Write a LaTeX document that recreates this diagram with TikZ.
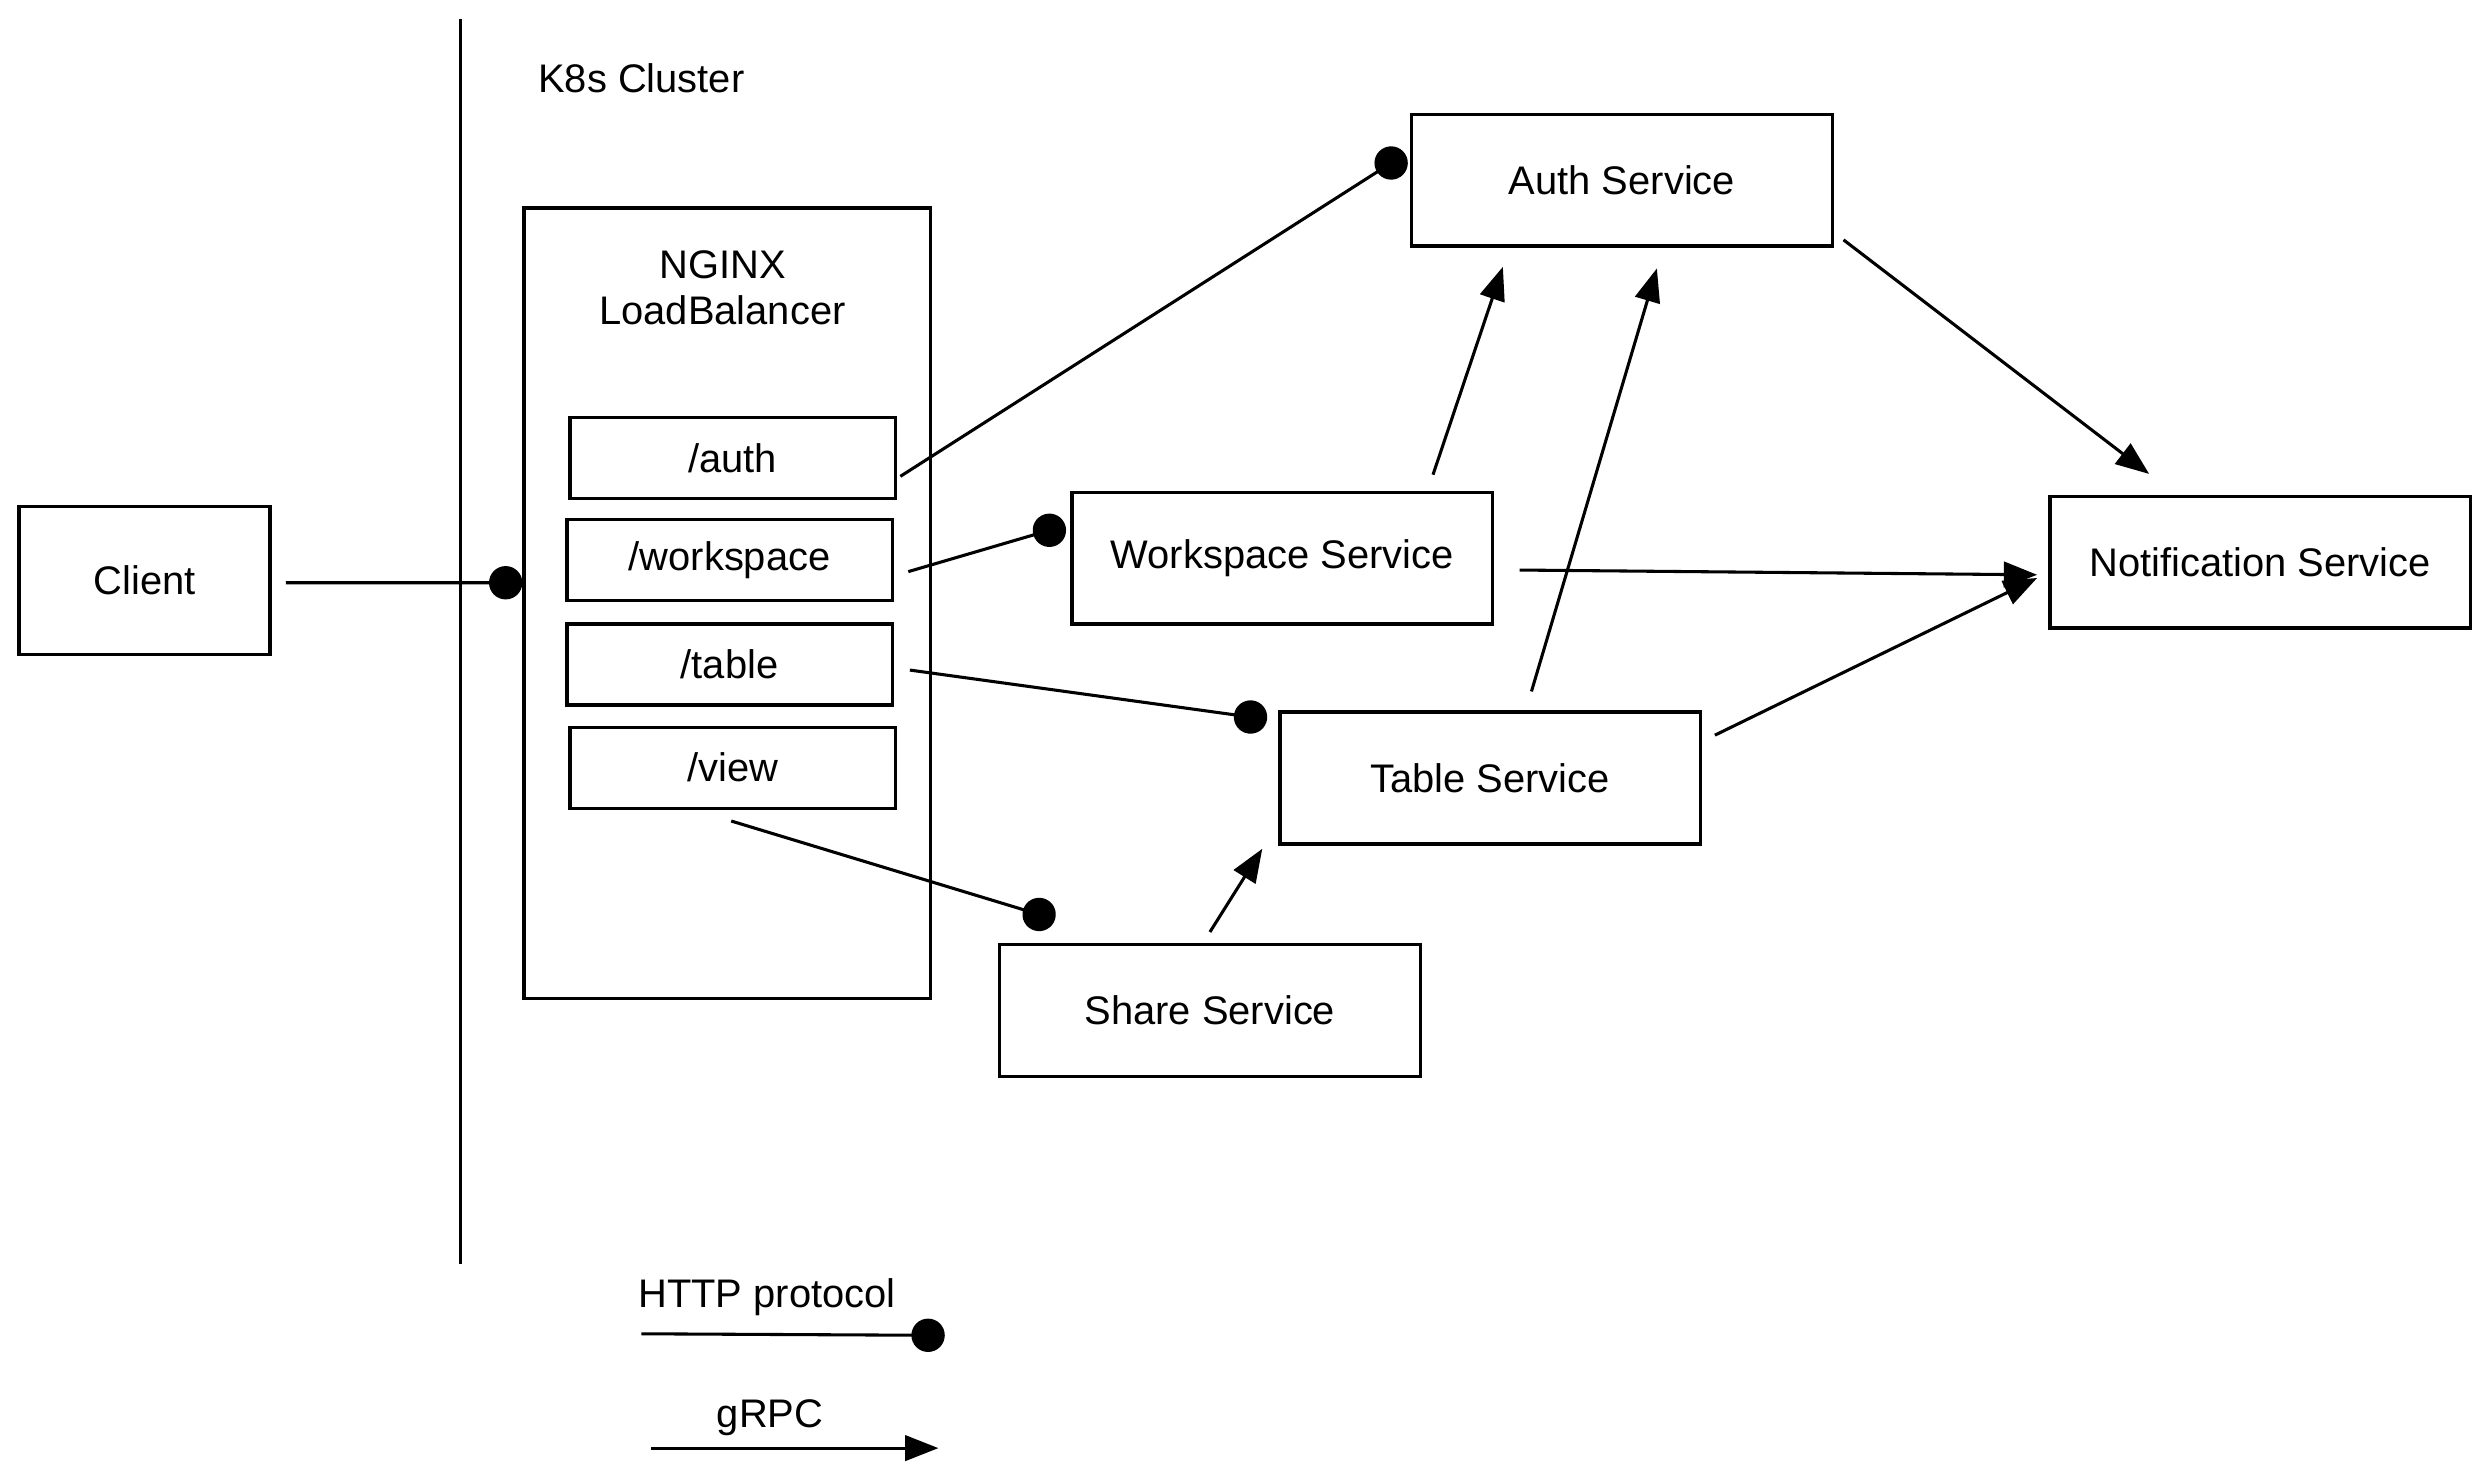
\documentclass[tikz,border=0pt]{standalone}
\usepackage{fontspec}
\setmainfont{Liberation Sans}
\usetikzlibrary{arrows.meta,calc}

\begin{document}
\begin{tikzpicture}[x=0.02cm,y=-0.02cm,line width=1.1pt,
        font=\fontsize{14.3}{16.5}\selectfont,
        box/.style={draw,line width=1.2pt,inner sep=0pt},
        route/.style={box,minimum width=4.1cm,minimum height=1.02cm},
        service/.style={box,minimum width=5.3cm,minimum height=1.66cm},
        http/.style={-{Circle[length=0.42cm]}},
        grpc/.style={-{Triangle[length=0.42cm,width=0.32cm]}},
        ]
        \useasboundingbox (0,0) rectangle (1560,921);
        \draw (290,12) -- (290,796);
        \node at (338,49) [anchor=west,inner sep=0pt] (cluster) {K8s Cluster};
        \node[box,minimum width=3.16cm,minimum height=1.86cm] (client) at (91,365.5) {Client};
        \node[box,minimum width=5.12cm,minimum height=9.96cm] (nginx) at (458,380) {};
        \node[align=center] (lb) at (455,181) {NGINX\\LoadBalancer};
        \node[route] (pauth) at (461.5,288.5) {/auth};
        \node[route] (pws) at (459.5,352.5) {/workspace};
        \node[route] (ptable) at (459.5,418.5) {/table};
        \node[route] (pview) at (461.5,483.5) {/view};
        \node[service] (authsvc) at (1021.5,113.5) {Auth Service};
        \node[service] (wssvc) at (807.5,351.5) {Workspace Service};
        \node[service] (table) at (938.5,490) {Table Service};
        \node[service] (share) at (762,636.5) {Share Service};
        \node[service] (notif) at (1423.5,354) {Notification Service};

        \draw[http] ($(client.east)+(9,1.5)$) -- ($(nginx.west)+(0,-13)$);
        \draw[http] ($(pauth.east)+(2,11.5)$) -- ($(authsvc.west)+(-3,-16.5)$);
        \draw[http] ($(pws.east)+(9,7.5)$) -- ($(wssvc.west)+(-3,-20.5)$);
        \draw[http] ($(ptable.east)+(10,3.5)$) -- ($(table.west)+(-7,-37)$);
        \draw[http] ($(pview.south)+(-1,7)$) -- ($(share.north west)+(36,-15)$);
        \draw[grpc] ($(share.north)+(0,-7)$) -- ($(table.south west)+(-10,2)$);
        \draw[grpc] ($(wssvc.north)+(95,-10)$) -- ($(authsvc.south)+(-75,12)$);
        \draw[grpc] ($(table.north)+(26,-12)$) -- ($(authsvc.south)+(22,13)$);
        \draw[grpc] ($(authsvc.south east)+(6,-5)$) -- ($(notif.north)+(-70,-13)$);
        \draw[grpc] ($(wssvc.east)+(16,7.5)$) -- ($(notif.west)+(-7,8)$);
        \draw[grpc] ($(table.east)+(8,-27)$) -- ($(notif.west)+(-7,10)$);

        \node (httplbl) at (483,817) {HTTP protocol};
        \coordinate (httpA) at (404,840);
        \coordinate (httpB) at (595,841);
        \draw[http] (httpA) -- (httpB);
        \node (grpclbl) at (485,893) {gRPC};
        \coordinate (grpcA) at (410,912);
        \coordinate (grpcB) at (591,912);
        \draw[grpc] (grpcA) -- (grpcB);
      \end{tikzpicture}
\end{document}
